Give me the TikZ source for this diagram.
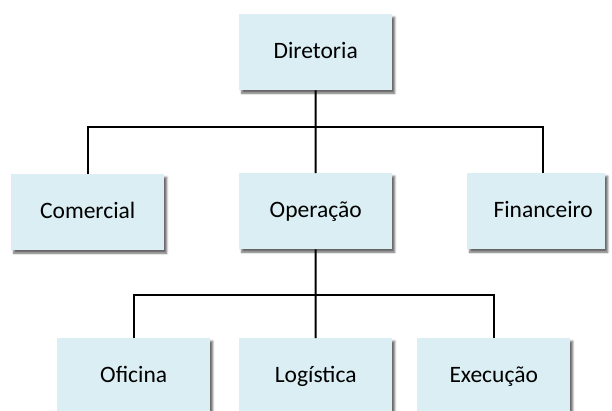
\documentclass[tikz,border=0pt]{standalone}
\usepackage{fontspec}
\setmainfont{Carlito}
\usetikzlibrary{shadows.blur}
\definecolor{boxfill}{HTML}{DAEEF3}
\tikzset{
  unitbox/.style={draw=none, fill=boxfill, inner sep=0pt, anchor=north west,
    minimum width=153pt, minimum height=76pt,
    text height=18pt, text depth=5pt,
    font=\fontsize{23.5}{26}\selectfont,
    blur shadow={shadow xshift=2.5pt, shadow yshift=-3pt, shadow blur radius=2pt, shadow opacity=60}},
  link/.style={line width=2pt, line join=miter}
}
\begin{document}
\begin{tikzpicture}[x=1pt, y=-1pt]
  \useasboundingbox (0,0) rectangle (612,410);
  \clip (0,0) rectangle (612,410);
  % organisation chart boxes
  \node[unitbox] (dir) at (239,14) {Diretoria};
  \node[unitbox] (com) at (11,174) {Comercial};
  \node[unitbox] (ope) at (239,173) {Operação};
  \node[unitbox, minimum width=138pt] (fin) at (467,173) {\hspace*{14pt}Financeiro};
  \node[unitbox] (ofi) at (57,338) {Oficina};
  \node[unitbox] (log) at (239,338) {Logística};
  \node[unitbox] (exe) at (417,338) {Execução};
  % branching points
  \coordinate (bus1) at (315.5,127);
  \coordinate (bus2) at (315.5,295);
  \coordinate (finin) at ([xshift=7pt]fin.north);
  % connectors
  \draw[link] (dir.south) -- (bus1);
  \draw[link] (com.north) |- (bus1) -| (finin);
  \draw[link] (bus1) -- (ope.north);
  \draw[link] (ope.south) -- (bus2);
  \draw[link] (ofi.north) |- (bus2) -| (exe.north);
  \draw[link] (bus2) -- (log.north);
\end{tikzpicture}
\end{document}
